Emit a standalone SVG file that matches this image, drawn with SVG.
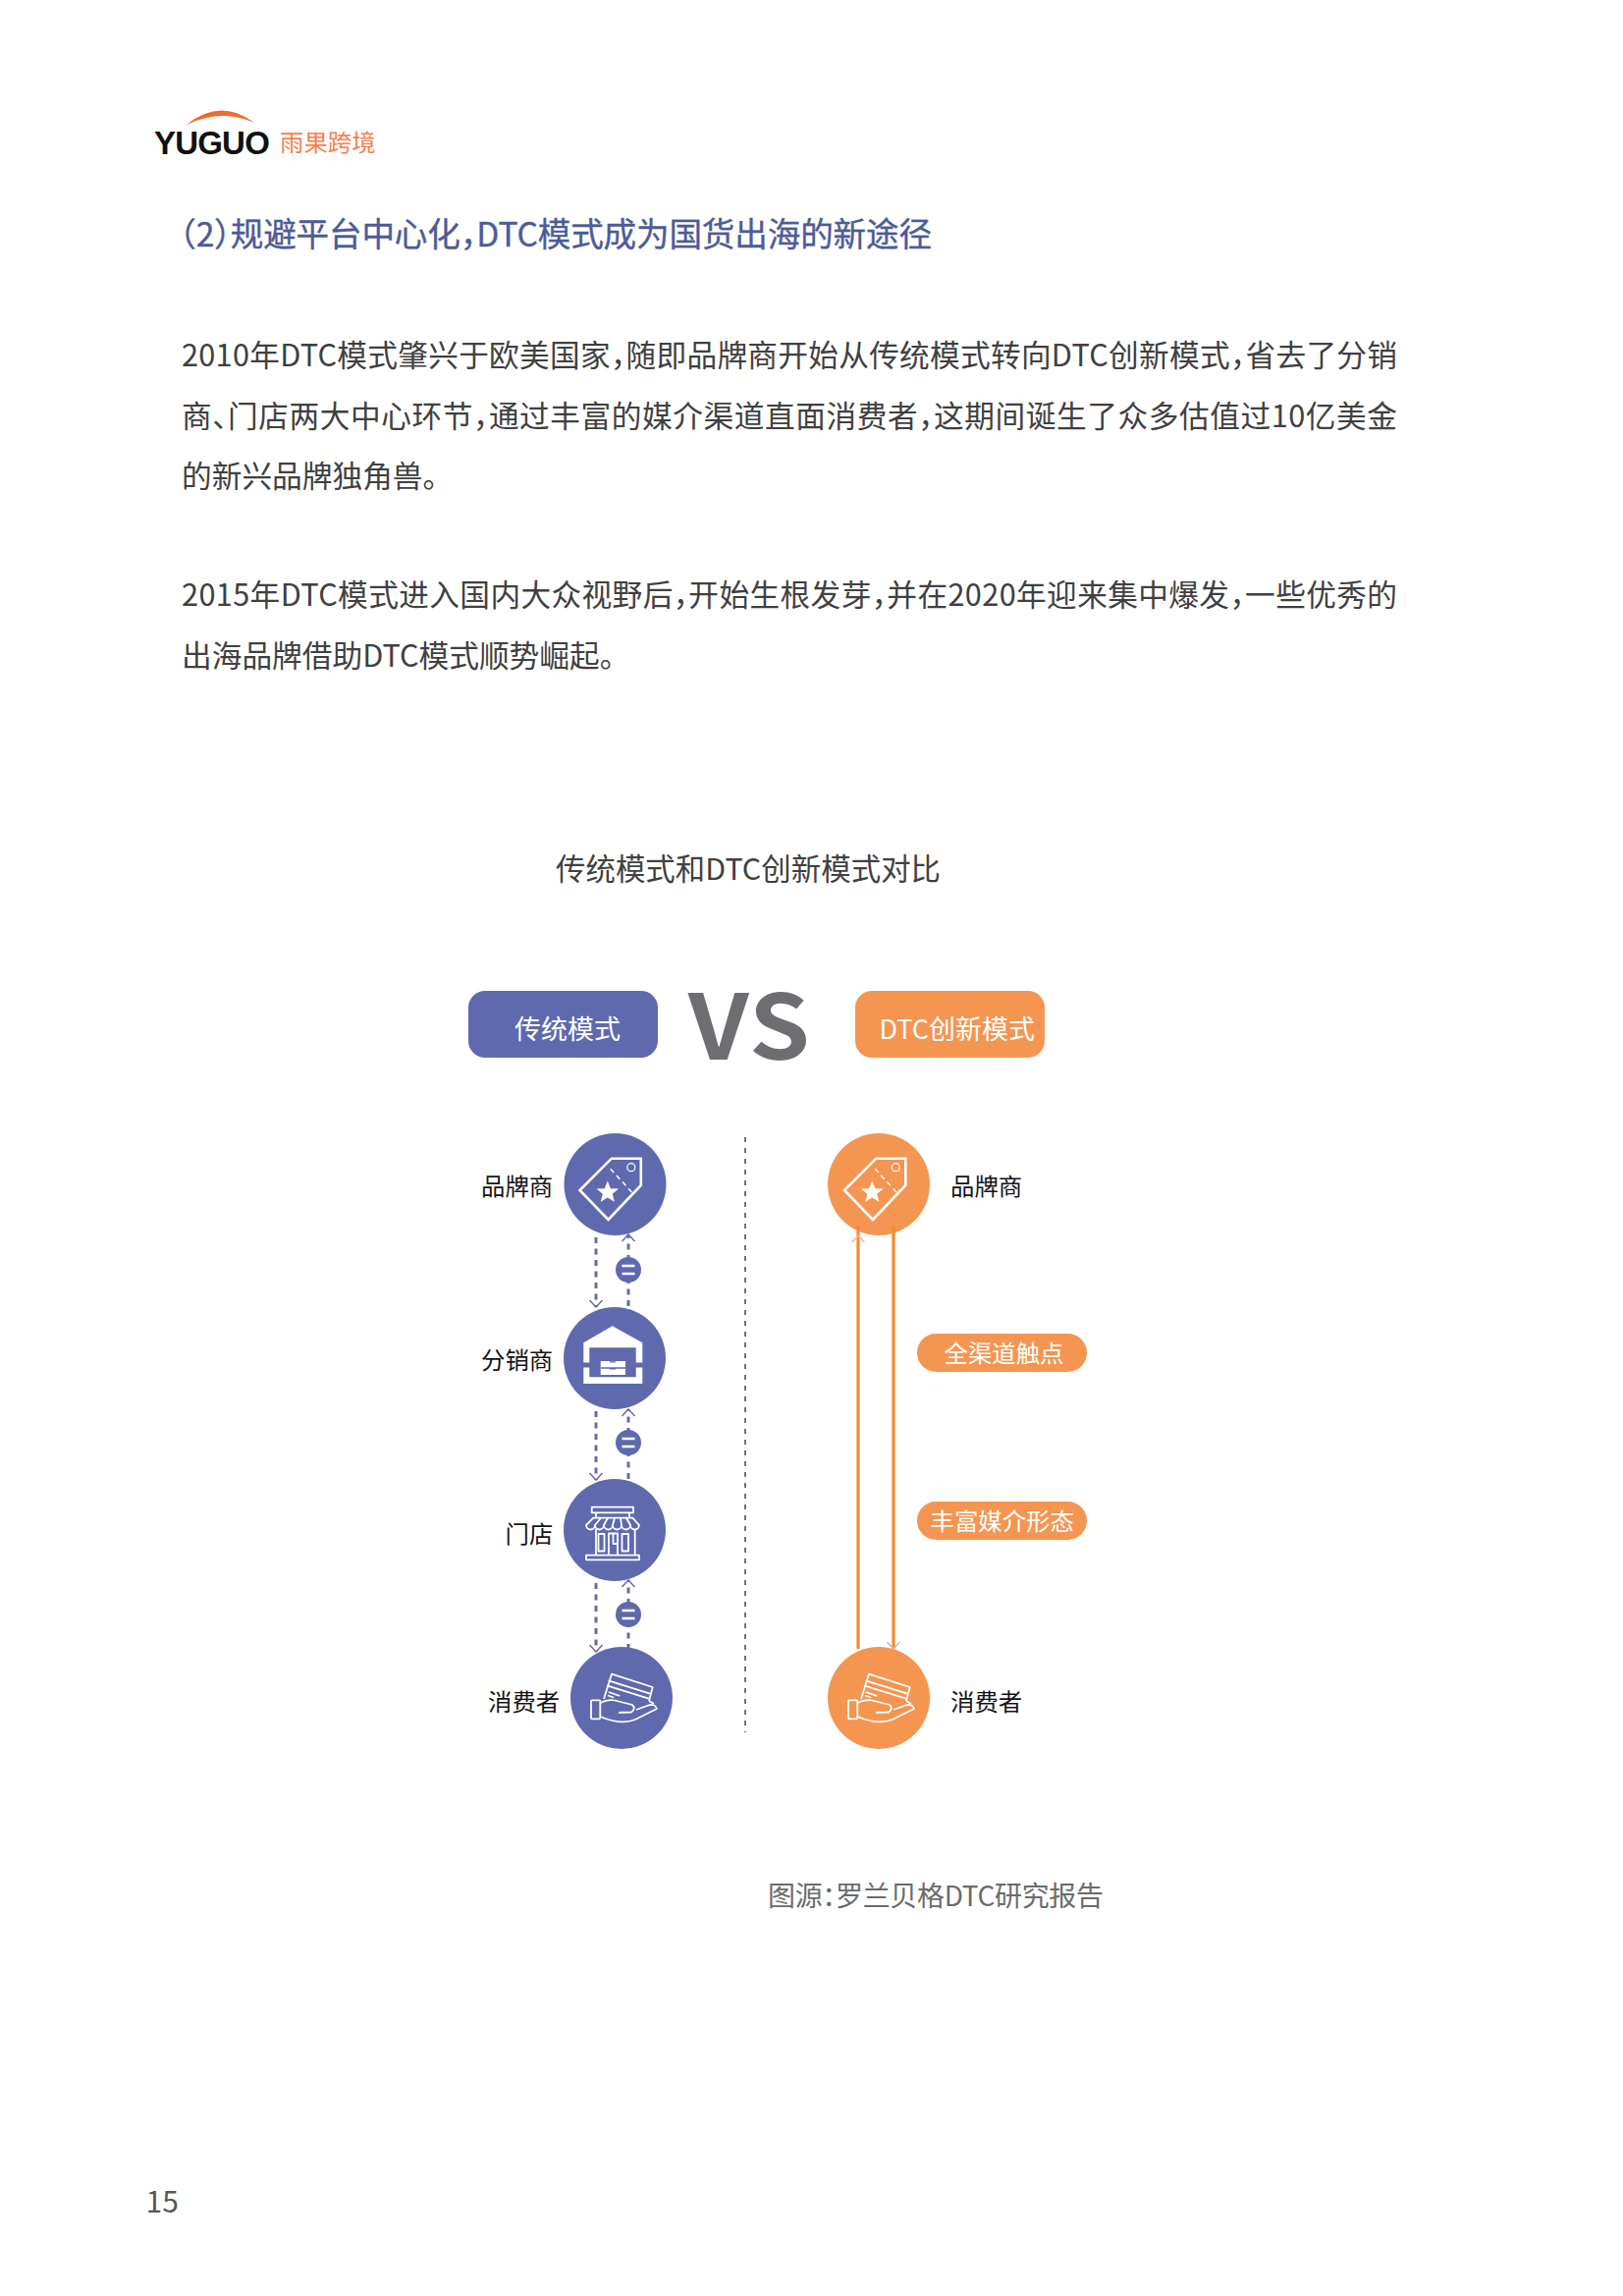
<svg xmlns="http://www.w3.org/2000/svg" xmlns:xlink="http://www.w3.org/1999/xlink" width="1653" height="2338" viewBox="0 0 1653 2338">
<style>
text{font-family:"Noto Sans CJK SC","Noto Sans",sans-serif;font-feature-settings:"halt"}
.body{font-size:30.7px;fill:#404040}
.label{font-size:24.4px;fill:#141414}
.pw{font-size:27px;fill:#fff}
.ps{font-size:24.4px;fill:#fff}
.pur{fill:#5f69ae}
.org{fill:#f49551}
.dash{fill:none;stroke:#6d6aa2;stroke-width:3;stroke-dasharray:6 5.5}
.oline{fill:none;stroke:#f58a2b;stroke-width:3.2}
.ic{fill:none;stroke:#fff;stroke-width:1.8;stroke-linejoin:round}
.eq{stroke:#fff;stroke-width:2.4}
</style>
<defs>
<marker id="chev" markerUnits="userSpaceOnUse" viewBox="-8 -8 9 16" refX="0" refY="0" markerWidth="9" markerHeight="16" orient="auto"><path d="M-7,-6.5L0,0L-7,6.5" fill="none" stroke="#6d6aa2" stroke-width="1.5"/></marker>
<marker id="chevUp" markerUnits="userSpaceOnUse" viewBox="-13 -8 14 16" refX="5" refY="0" markerWidth="14" markerHeight="16" orient="auto"><path d="M-12,-6.5L-5,0L-12,6.5" fill="none" stroke="#f7b59a" stroke-width="1.5"/></marker>
<marker id="chevDn" markerUnits="userSpaceOnUse" viewBox="-8 -8 9 16" refX="0" refY="0" markerWidth="9" markerHeight="16" orient="auto"><path d="M-7,-6.5L0,0L-7,6.5" fill="none" stroke="#c8b8ac" stroke-width="1.5"/></marker>
<g id="tag">
<path d="M26.3,-26.3V1L-7,36L-36,6L-3.7,-26.3Z" fill="none" stroke="#fff" stroke-width="2.6"/>
<circle cx="16.3" cy="-17.3" r="4" fill="none" stroke="#fff" stroke-width="1.2"/>
<path d="M-4.7,-15.7L17.3,8.3" fill="none" stroke="#fff" stroke-width="1.5" stroke-dasharray="5 4"/>
<path d="M-7.7,-3.5L-4.6,4.2L3.6,4.6L-2.7,9.8L-0.7,17.8L-7.7,13.4L-14.7,17.8L-12.7,9.8L-19,4.6L-10.8,4.2Z" fill="#fff"/>
</g>
<g id="hand" class="ic">
<path d="M-18,1L-10,-24.3L31.7,-11L28,3"/>
<path d="M-13.3,-17.7L29,-4.3M-15,-12.7L27.7,0.7M-13.3,-6L-1.7,-2M-14,-2.5L-8,-0.5"/>
<rect x="-31" y="2.3" width="9.3" height="19" rx="1"/>
<path d="M-21.7,5Q-12,0 -3,3.5L11,7Q15,11 10,14.5L-3,15M-21.7,19Q0,28 14,22L36,11Q34,5 26,8L15,12"/>
<path d="M28,3L33,6"/>
</g>
</defs>
<g id="logo">
<path d="M190,127Q224,99 259,125Q226,110 190,127Z" fill="#ee6d2d"/>
<text x="157" y="157" font-size="33" font-weight="700" letter-spacing="-0.8" style="font-family:'Liberation Sans',sans-serif" fill="#111">YUGUO</text>
<text x="285" y="154" font-size="24.4" fill="#f47f4e">雨果跨境</text>
</g>
<g id="text-block">
<text x="183" y="251" font-size="33.6" fill="#4d5b97" stroke="#4d5b97" stroke-width="0.35" textLength="766">&#xFF08;2&#xFF09;规避平台中心化&#xFF0C;DTC模式成为国货出海的新途径</text>
<text class="body" x="185" y="373" textLength="1238">2010年DTC模式肇兴于欧美国家&#xFF0C;随即品牌商开始从传统模式转向DTC创新模式&#xFF0C;省去了分销</text>
<text class="body" x="185" y="435" textLength="1238">商、门店两大中心环节&#xFF0C;通过丰富的媒介渠道直面消费者&#xFF0C;这期间诞生了众多估值过10亿美金</text>
<text class="body" x="185" y="496">的新兴品牌独角兽。</text>
<text class="body" x="185" y="617" textLength="1238">2015年DTC模式进入国内大众视野后&#xFF0C;开始生根发芽&#xFF0C;并在2020年迎来集中爆发&#xFF0C;一些优秀的</text>
<text class="body" x="185" y="679">出海品牌借助DTC模式顺势崛起。</text>
<text x="566" y="895.5" font-size="30.4" fill="#404040" textLength="392">传统模式和DTC创新模式对比</text>
<text x="782" y="1940.5" font-size="28" fill="#6b6b6b" textLength="342">图源&#xFF1A;罗兰贝格DTC研究报告</text>
<text x="148.5" y="2252.5" font-size="30" fill="#555">15</text>
</g>
<g id="header-traditional"><rect class="pur" x="477" y="1009" width="193" height="68" rx="17"/><text class="pw" x="524" y="1057.5">传统模式</text></g>
<text id="vs" x="701" y="1079" font-size="92" font-weight="700" letter-spacing="1" textLength="125" lengthAdjust="spacingAndGlyphs" fill="#6d6e71">VS</text>
<g id="header-dtc"><rect class="org" x="871" y="1009" width="193" height="68" rx="17"/><text class="pw" x="895.5" y="1057.5">DTC创新模式</text></g>
<g id="node-brand-l"><circle class="pur" cx="626.5" cy="1206" r="52"/><use xlink:href="#tag" href="#tag" x="626.5" y="1206"/><text class="label" x="490" y="1217">品牌商</text></g>
<g id="node-distributor"><circle class="pur" cx="626" cy="1383" r="52"/>
<g transform="translate(1 0)"><path fill="#fff" fill-rule="evenodd" d="M622.7,1350.3L653.3,1367.3V1409H593.3V1367.3ZM599.3,1372.3V1402.3H646.7V1372.3Z"/>
<rect class="pur" x="593" y="1387.5" width="7" height="5"/><rect class="pur" x="646" y="1387.5" width="8" height="5"/>
<rect fill="#fff" x="610.7" y="1386" width="25.3" height="14"/><path d="M610.7,1393H636M620,1386.8h6M620,1393.8h6" stroke="#5f69ae" stroke-width="1.3"/></g>
<text class="label" x="490" y="1394">分销商</text></g>
<g id="node-store"><circle class="pur" cx="626" cy="1558" r="52"/>
<g class="ic" transform="translate(626 1558)">
<rect x="-23.3" y="-23.3" width="42.3" height="5.7"/><path d="M-19,-17.6V-12.3M15,-17.6V-12.3"/>
<path d="M-21.7,-12.3H18.3L25,-5A4.5,4.5 0 0 1 16,-5A4.5,4.5 0 0 1 7,-5A4.5,4.5 0 0 1 -2,-5A4.5,4.5 0 0 1 -11,-5A4.5,4.5 0 0 1 -20,-5A4.5,4.5 0 0 1 -29,-5Z"/>
<path d="M-14,-12.3L-20,-5M-7,-12.3L-11,-5M0,-12.3L-2,-5M6,-12.3L7,-5M12,-12.3L16,-5"/>
<path d="M-19,-1V25.7M20.7,-1V25.7"/>
<rect x="-16.5" y="4" width="6" height="17.5"/><rect x="7.5" y="4" width="6.5" height="17.5"/>
<path d="M-6,25.7V3.5H3V25.7M-1.5,3.5V14H3"/>
<rect x="-29" y="25.7" width="54" height="4.6"/>
</g>
<text class="label" x="514.5" y="1571">门店</text></g>
<g id="node-consumer-l"><circle class="pur" cx="633" cy="1729" r="52"/><use xlink:href="#hand" href="#hand" x="633" y="1729"/><text class="label" x="497" y="1742">消费者</text></g>
<g id="node-brand-r"><circle class="org" cx="895" cy="1206" r="52"/><use xlink:href="#tag" href="#tag" x="896" y="1206"/><text class="label" x="968" y="1217">品牌商</text></g>
<g id="node-consumer-r"><circle class="org" cx="895" cy="1729" r="52"/><use xlink:href="#hand" href="#hand" x="895" y="1729"/><text class="label" x="968" y="1742">消费者</text></g>
<g id="connectors">
<line x1="759" y1="1158" x2="759" y2="1764" fill="none" stroke="#6f7080" stroke-width="2" stroke-dasharray="5 6"/>
<path class="dash" d="M607,1260V1331" marker-end="url(#chev)"/>
<path class="dash" d="M640,1330V1257" marker-end="url(#chev)"/>
<path class="dash" d="M607,1437V1507" marker-end="url(#chev)"/>
<path class="dash" d="M640,1506V1435" marker-end="url(#chev)"/>
<path class="dash" d="M607,1612V1682" marker-end="url(#chev)"/>
<path class="dash" d="M640,1680V1609" marker-end="url(#chev)"/>
<path class="oline" d="M874,1679V1248" marker-end="url(#chevUp)"/>
<path class="oline" d="M910,1248V1679" marker-end="url(#chevDn)"/>
</g>
<g id="eq-1"><circle class="pur" cx="640" cy="1293" r="13"/><path class="eq" d="M633.5,1289H646.5M633.5,1297H646.5"/></g>
<g id="eq-2"><circle class="pur" cx="640" cy="1469" r="13"/><path class="eq" d="M633.5,1465H646.5M633.5,1473H646.5"/></g>
<g id="eq-3"><circle class="pur" cx="640" cy="1644" r="13"/><path class="eq" d="M633.5,1640H646.5M633.5,1648H646.5"/></g>
<g id="tag-channels"><rect class="org" x="934" y="1358" width="173" height="39" rx="19.5"/><text class="ps" x="961.5" y="1387">全渠道触点</text></g>
<g id="tag-media"><rect class="org" x="934" y="1529" width="173" height="39" rx="19.5"/><text class="ps" x="947.5" y="1558">丰富媒介形态</text></g>
</svg>
